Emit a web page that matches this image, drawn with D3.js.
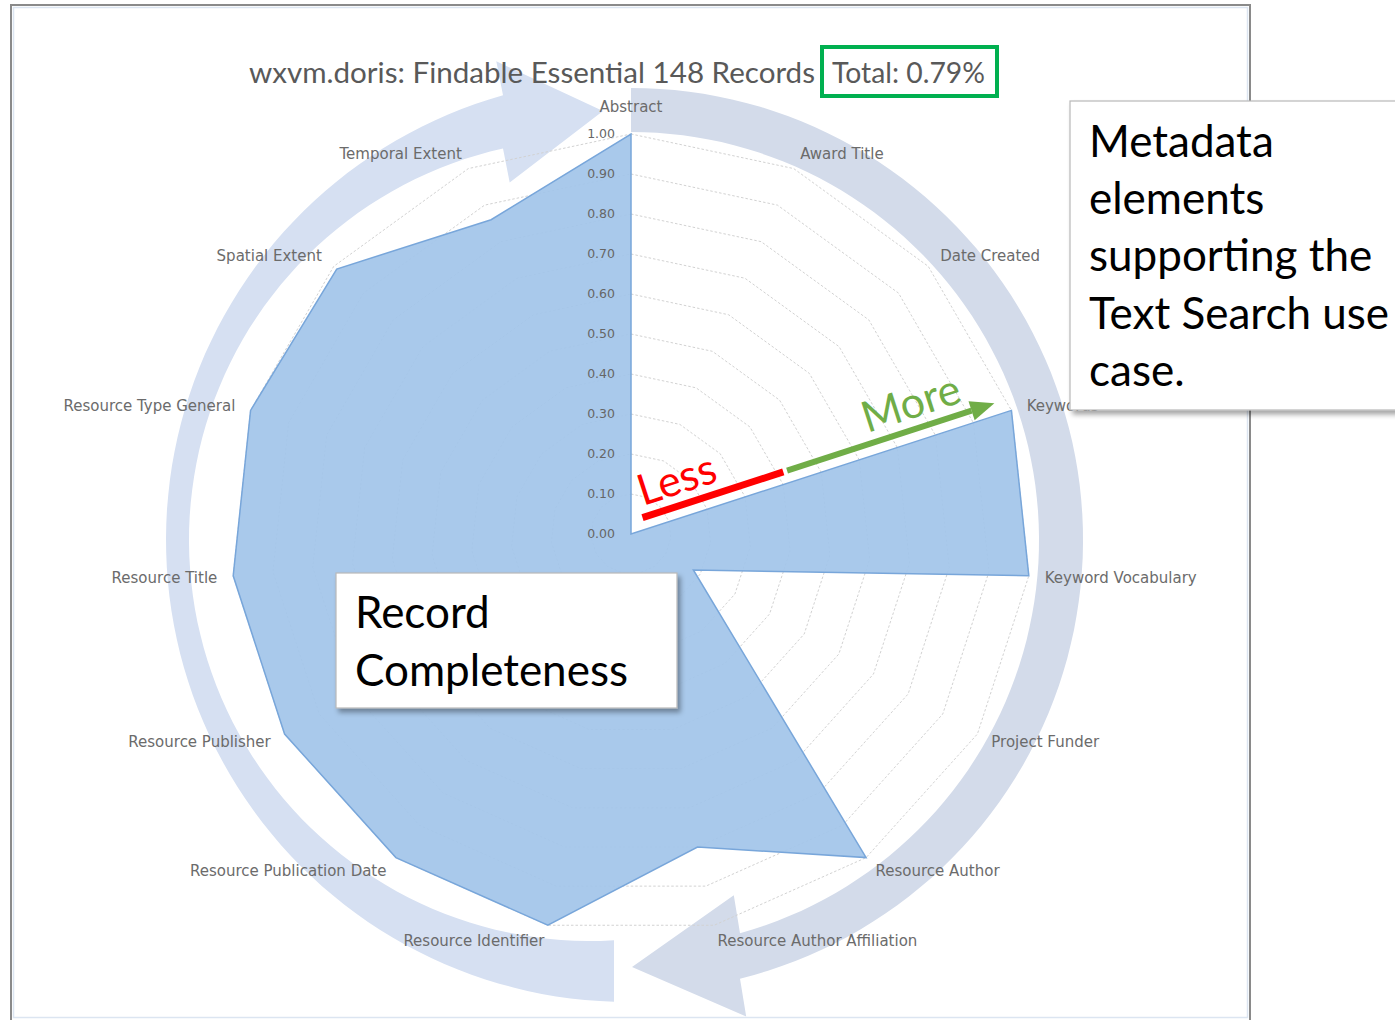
<!DOCTYPE html>
<html>
<head>
<meta charset="utf-8">
<script src="https://cdn.jsdelivr.net/npm/d3@7"></script>
<style>
  html, body { margin: 0; padding: 0; background: #ffffff; }
  svg { display: block; }
</style>
</head>
<body>
<svg id="chart" width="1395" height="1020"></svg>
<script>
// ---------------- data ----------------
const titleMain = "wxvm.doris: Findable Essential 148 Records";
const titleTotal = "Total: 0.79%";
const categories = [
  "Abstract", "Award Title", "Date Created", "Keywords", "Keyword Vocabulary",
  "Project Funder", "Resource Author", "Resource Author Affiliation",
  "Resource Identifier", "Resource Publication Date", "Resource Publisher",
  "Resource Title", "Resource Type General", "Spatial Extent", "Temporal Extent"
];
const completeness = [1.00, 0.00, 0.00, 1.00, 1.00, 0.18, 1.00, 0.80, 1.00, 1.00, 1.00, 1.00, 1.00, 0.99, 0.86];
const tickValues = [0, 0.1, 0.2, 0.3, 0.4, 0.5, 0.6, 0.7, 0.8, 0.9, 1.0];
const boxTextUseCase = ["Metadata", "elements", "supporting the", "Text Search use", "case."];
const boxTextRecord = ["Record", "Completeness"];
const lessLabel = "Less";
const moreLabel = "More";

// ---------------- layout ----------------
const svg = d3.select("#chart");
const cx = 631, cy = 534, R = 400;
const rScale = d3.scaleLinear().domain([0, 1]).range([0, R]);
const N = categories.length;
const angle = i => i * 2 * Math.PI / N;
const chartFont = "Lato, 'Noto Sans', sans-serif";
const labelFont = "'DejaVu Sans', Lato, sans-serif";
const boxFont = "Lato, 'Open Sans', sans-serif";

// defs: drop shadow
const defs = svg.append("defs");
const f = defs.append("filter").attr("id", "shadow").attr("x", "-10%").attr("y", "-10%").attr("width", "130%").attr("height", "140%");
f.append("feDropShadow").attr("dx", 3).attr("dy", 4).attr("stdDeviation", 2.5)
  .attr("flood-color", "#000").attr("flood-opacity", 0.35);

// frame
svg.append("rect").attr("x", 11).attr("y", 5).attr("width", 1239).attr("height", 1018)
  .attr("fill", "#fff").attr("stroke", "#8a8a8a").attr("stroke-width", 2);
svg.append("rect").attr("x", 13.5).attr("y", 7.5).attr("width", 1234).attr("height", 1010)
  .attr("fill", "none").attr("stroke", "#dce5f1").attr("stroke-width", 1.5);

// ---------------- decorative circular arrows ----------------
function yAtX(c, x, side) {
  const dx = x - c.cx;
  const dy = Math.sqrt(Math.max(0, c.r * c.r - dx * dx));
  return side === "top" ? c.cy - dy : c.cy + dy;
}
function norm(a) { const t = 2 * Math.PI; return ((a % t) + t) % t; }
function angAtX(c, x, side) {
  const y = yAtX(c, x, side);
  return norm(Math.atan2(x - c.cx, -(y - c.cy)));
}
function onCircle(c, a) { return [c.cx + c.r * Math.sin(a), c.cy - c.r * Math.cos(a)]; }

function arrowPath(o) {
  const aO0 = angAtX(o.outer, o.tailX, o.tailSide), aO1 = angAtX(o.outer, o.headX, o.headSide);
  const aI0 = angAtX(o.inner, o.tailX, o.tailSide), aI1 = angAtX(o.inner, o.headX, o.headSide);
  const n = 90;
  const outerPts = d3.range(n + 1).map(k => onCircle(o.outer, aO0 + (aO1 - aO0) * k / n));
  const innerPts = d3.range(n + 1).map(k => onCircle(o.inner, aI1 + (aI0 - aI1) * k / n));
  const oe = outerPts[n], ie = innerPts[0];
  const M = [(oe[0] + ie[0]) / 2, (oe[1] + ie[1]) / 2];
  const T = [M[0] + o.tip[0], M[1] + o.tip[1]];
  const len = Math.hypot(o.tip[0], o.tip[1]);
  const d = [o.tip[0] / len, o.tip[1] / len];
  let p = [-d[1], d[0]];
  const c1 = [M[0] + p[0] * o.hw, M[1] + p[1] * o.hw];
  if (Math.hypot(c1[0] - oe[0], c1[1] - oe[1]) > Math.hypot(c1[0] - ie[0], c1[1] - ie[1])) p = [-p[0], -p[1]];
  const hOut = [M[0] + p[0] * o.hw, M[1] + p[1] * o.hw];
  const hIn = [M[0] - p[0] * o.hw, M[1] - p[1] * o.hw];
  const pts = outerPts.concat([hOut, T, hIn]).concat(innerPts);
  return "M" + pts.map(q => q[0].toFixed(1) + "," + q[1].toFixed(1)).join("L") + "Z";
}

const arrows = svg.append("g").attr("class", "arrows");
arrows.append("path").attr("fill", "#d6e0f2").attr("d", arrowPath({
  outer: { cx: 628, cy: 540, r: 462 }, inner: { cx: 590, cy: 540, r: 401 },
  tailX: 614, tailSide: "bottom", headX: 503, headSide: "top", tip: [100, -11], hw: 61
}));
arrows.append("path").attr("fill", "#d3dbea").attr("d", arrowPath({
  outer: { cx: 631, cy: 540, r: 452 }, inner: { cx: 631, cy: 540, r: 408 },
  tailX: 631, tailSide: "top", headX: 740, headSide: "bottom", tip: [-108, 11], hw: 61
}));

// ---------------- radar ----------------
const g = svg.append("g").attr("transform", `translate(${cx},${cy})`);

const ring = d3.lineRadial()
  .angle((d, i) => angle(i))
  .radius(d => rScale(d))
  .curve(d3.curveLinearClosed);

// gridlines
g.append("g").selectAll("path")
  .data(tickValues.filter(v => v > 0))
  .join("path")
  .attr("d", v => ring(categories.map(() => v)))
  .attr("fill", "none")
  .attr("stroke", "#d2d2d2")
  .attr("stroke-width", 1)
  .attr("stroke-dasharray", "2.5,2");

// series
g.append("path")
  .attr("d", ring(completeness))
  .attr("fill", "#a3c5ea")
  .attr("fill-opacity", 0.93)
  .attr("stroke", "#78a6da")
  .attr("stroke-width", 1.5)
  .attr("stroke-linejoin", "miter");

// value axis tick labels
g.append("g").selectAll("text")
  .data(tickValues)
  .join("text")
  .attr("x", -16)
  .attr("y", v => -rScale(v))
  .attr("dy", "0.35em")
  .attr("text-anchor", "end")
  .attr("font-family", labelFont)
  .attr("font-size", 12.5)
  .attr("fill", "#666")
  .text(v => d3.format(".2f")(v));

// category labels
const labelR = 416;
g.append("g").selectAll("text")
  .data(categories)
  .join("text")
  .attr("x", (d, i) => labelR * Math.sin(angle(i)))
  .attr("y", (d, i) => -labelR * Math.cos(angle(i)) - (Math.abs(Math.sin(angle(i))) < 0.01 ? 11 : 0))
  .attr("dy", "0.35em")
  .attr("text-anchor", (d, i) => {
    const s = Math.sin(angle(i));
    return Math.abs(s) < 0.01 ? "middle" : (s > 0 ? "start" : "end");
  })
  .attr("font-family", labelFont)
  .attr("font-size", 15)
  .attr("fill", "#6b6b6b")
  .text(d => d);

// title
svg.append("text").attr("x", 249).attr("y", 83)
  .attr("font-family", chartFont).attr("font-size", 28).attr("fill", "#595959")
  .attr("textLength", 566).attr("lengthAdjust", "spacingAndGlyphs")
  .text(titleMain);
svg.append("text").attr("x", 832).attr("y", 83)
  .attr("font-family", chartFont).attr("font-size", 28).attr("fill", "#595959")
  .attr("textLength", 153).attr("lengthAdjust", "spacingAndGlyphs")
  .text(titleTotal);
svg.append("rect").attr("x", 822).attr("y", 47).attr("width", 175).attr("height", 49)
  .attr("fill", "none").attr("stroke", "#00b050").attr("stroke-width", 4);

// ---------------- Less / More annotation along the Keywords axis ----------------
const kIdx = categories.indexOf("Keywords");
const ka = angle(kIdx);
const u = [Math.sin(ka), -Math.cos(ka)];
const nrm = [Math.cos(ka), Math.sin(ka)];
const offset = -12;
const along = (v, off) => [cx + u[0] * rScale(v) + nrm[0] * off, cy + u[1] * rScale(v) + nrm[1] * off];
const rotDeg = Math.atan2(u[1], u[0]) * 180 / Math.PI;

const lessA = along(0.04, offset), lessB = along(0.41, offset);
svg.append("line").attr("x1", lessA[0]).attr("y1", lessA[1]).attr("x2", lessB[0]).attr("y2", lessB[1])
  .attr("stroke", "#ff0000").attr("stroke-width", 7);
const moreA = along(0.42, offset), moreB = along(0.905, offset), moreT = along(0.965, offset);
svg.append("line").attr("x1", moreA[0]).attr("y1", moreA[1]).attr("x2", moreB[0]).attr("y2", moreB[1])
  .attr("stroke", "#70ad47").attr("stroke-width", 6);
const hb1 = [moreB[0] + nrm[0] * 10, moreB[1] + nrm[1] * 10];
const hb2 = [moreB[0] - nrm[0] * 10, moreB[1] - nrm[1] * 10];
svg.append("path").attr("d", `M${hb1}L${moreT}L${hb2}Z`).attr("fill", "#70ad47");

const lessP = along(0.05, -23);
svg.append("text").attr("transform", `translate(${lessP[0]},${lessP[1]}) rotate(${rotDeg})`)
  .attr("font-family", boxFont).attr("font-size", 43).attr("fill", "#ff0000").text(lessLabel);
const moreP = along(0.64, -23);
svg.append("text").attr("transform", `translate(${moreP[0]},${moreP[1]}) rotate(${rotDeg})`)
  .attr("font-family", boxFont).attr("font-size", 43).attr("fill", "#70ad47").text(moreLabel);

// ---------------- text boxes ----------------
svg.append("rect").attr("x", 1070).attr("y", 101).attr("width", 340).attr("height", 309)
  .attr("fill", "#fff").attr("stroke", "#b8b8b8").attr("stroke-width", 1.2).attr("filter", "url(#shadow)");
svg.append("g").selectAll("text").data(boxTextUseCase).join("text")
  .attr("x", 1089).attr("y", (d, i) => 157 + i * 57.2)
  .attr("font-family", boxFont).attr("font-size", 44).attr("fill", "#000")
  .text(d => d);

svg.append("rect").attr("x", 336).attr("y", 573).attr("width", 341).attr("height", 135)
  .attr("fill", "#fff").attr("stroke", "#b8b8b8").attr("stroke-width", 1.2).attr("filter", "url(#shadow)");
svg.append("g").selectAll("text").data(boxTextRecord).join("text")
  .attr("x", 355).attr("y", (d, i) => 628 + i * 58)
  .attr("font-family", boxFont).attr("font-size", 44).attr("fill", "#000")
  .text(d => d);
</script>
</body>
</html>
